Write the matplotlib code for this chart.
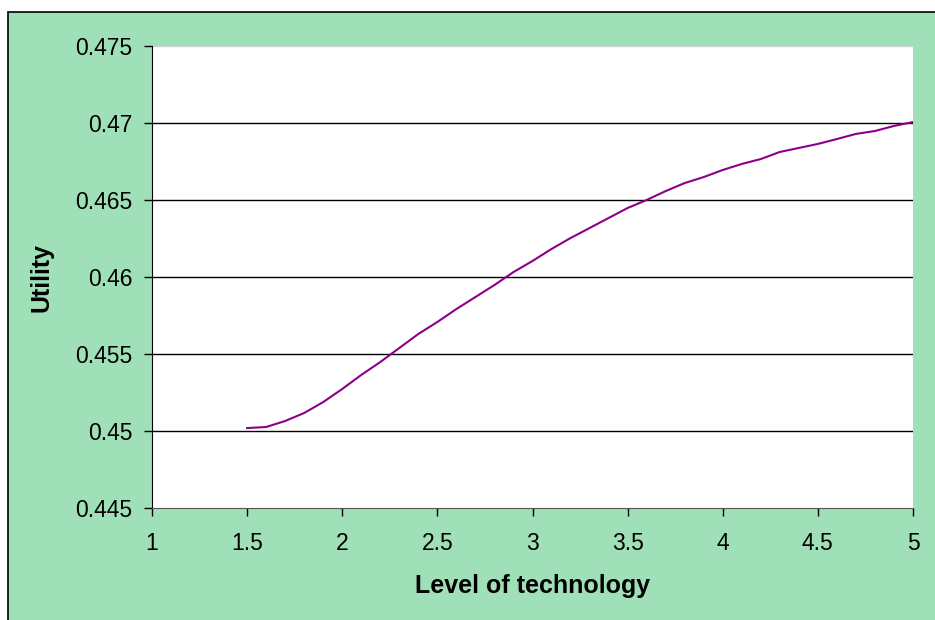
import matplotlib
matplotlib.use("Agg")
import matplotlib.pyplot as plt
from matplotlib.patches import Rectangle

tech = [1.5, 1.6, 1.7, 1.8, 1.9, 2.0, 2.1, 2.2, 2.3, 2.4, 2.5, 2.6, 2.7, 2.8, 2.9,
        3.0, 3.1, 3.2, 3.3, 3.4, 3.5, 3.6, 3.7, 3.8, 3.9, 4.0, 4.1, 4.2, 4.3, 4.4,
        4.5, 4.6, 4.7, 4.8, 4.9, 5.0]
utility = [0.45019, 0.45026, 0.45065, 0.45117, 0.45188, 0.45273, 0.45364, 0.45448,
           0.45539, 0.45630, 0.45708, 0.45792, 0.45870, 0.45948, 0.46032, 0.46104,
           0.46182, 0.46253, 0.46318, 0.46383, 0.46448, 0.46500, 0.46558, 0.46610,
           0.46649, 0.46695, 0.46734, 0.46766, 0.46812, 0.46838, 0.46864, 0.46896,
           0.46929, 0.46948, 0.46981, 0.47006]
xticks = [1, 1.5, 2, 2.5, 3, 3.5, 4, 4.5, 5]
xticklabels = ["1", "1.5", "2", "2.5", "3", "3.5", "4", "4.5", "5"]
yticks = [0.445, 0.45, 0.455, 0.46, 0.465, 0.47, 0.475]
yticklabels = ["0.445", "0.45", "0.455", "0.46", "0.465", "0.47", "0.475"]

plt.rcParams['font.family'] = ['Liberation Sans', 'DejaVu Sans']
W, H = 935, 620
fig = plt.figure(figsize=(W / 100, H / 100), dpi=100, facecolor="white")
bg = Rectangle((8 / W, -0.1), 1.2, 1 - 12 / H + 0.1, transform=fig.transFigure,
               facecolor="#A0E0B8", edgecolor="black", linewidth=1.2, zorder=-10)
fig.patches.append(bg)

ax = fig.add_axes([152 / W, (H - 508) / H, (913 - 152) / W, (508 - 46) / H])
ax.set_facecolor("white")
ax.plot(tech, utility, color="#8B008B", linewidth=1.5, zorder=3)
ax.set_xlim(1, 5)
ax.set_ylim(0.445, 0.475)
ax.set_xticks(xticks)
ax.set_xticklabels(xticklabels)
ax.set_yticks(yticks)
ax.set_yticklabels(yticklabels)
for v in yticks[1:-1]:
    ax.axhline(v, color="black", linewidth=1.0, zorder=1)
ax.axhline(0.475, color="#d0d0d0", linewidth=1.0, zorder=1)
for s in ["top", "right"]:
    ax.spines[s].set_visible(False)
ax.spines["left"].set_color("black")
ax.spines["bottom"].set_color("#555555")
ax.tick_params(direction="out", length=6, width=1, labelsize=16.5)
ax.tick_params(axis="x", pad=11)
ax.tick_params(axis="y", pad=8)
ax.set_xlabel("Level of technology", fontsize=18, fontweight="bold", labelpad=14)
ax.set_ylabel("Utility", fontsize=18, fontweight="bold")
ax.yaxis.set_label_coords(-98 / (913 - 152), 0.5)
fig.savefig("out.png", dpi=100, facecolor=fig.get_facecolor())
